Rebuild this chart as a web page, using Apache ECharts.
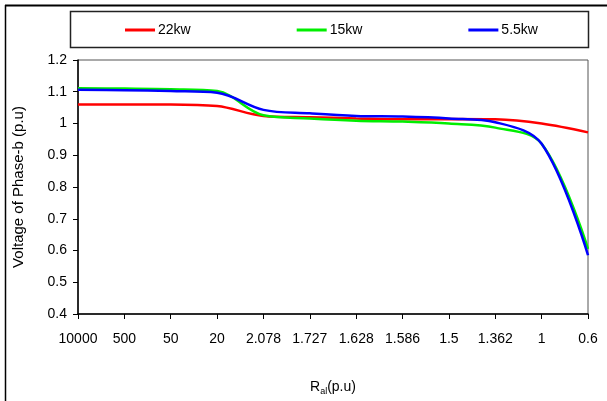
<!DOCTYPE html>
<html>
<head>
<meta charset="utf-8">
<script src="https://cdn.jsdelivr.net/npm/echarts@6/dist/echarts.min.js"></script>
<style>
html,body{margin:0;padding:0;background:#fff;}
#chart{width:607px;height:401px;}
</style>
</head>
<body>
<div id="chart"></div>
<script>
const categories = ['10000','500','50','20','2.078','1.727','1.628','1.586','1.5','1.362','1','0.6'];
const seriesNames = ['22kw','15kw','5.5kw'];
const kw22 = [1.060, 1.060, 1.060, 1.055, 1.024, 1.020, 1.016, 1.013, 1.014, 1.013, 1.000, 0.972];
const kw15 = [1.111, 1.110, 1.108, 1.102, 1.026, 1.016, 1.009, 1.006, 1.000, 0.987, 0.936, 0.605];
const kw55 = [1.106, 1.105, 1.102, 1.097, 1.043, 1.032, 1.024, 1.022, 1.016, 1.004, 0.936, 0.585];
const yTicks = {min: 0.4, max: 1.2, interval: 0.1};
const colors = ['#FF0000', '#00EE00', '#0000FF'];

const chart = echarts.init(document.getElementById('chart'), null, {renderer: 'canvas'});
const font = 'Liberation Sans, Arial, sans-serif';
const values = [kw22, kw15, kw55];

chart.setOption({
  animation: false,
  backgroundColor: '#ffffff',
  graphic: [
    {type: 'line', shape: {x1: 5, y1: 5.5, x2: 607, y2: 5.5}, style: {stroke: '#000', lineWidth: 2}},
    {type: 'line', shape: {x1: 5.5, y1: 5, x2: 5.5, y2: 401}, style: {stroke: '#000', lineWidth: 1.5}},
    {type: 'rect', shape: {x: 70.5, y: 11.5, width: 518, height: 36}, style: {fill: 'none', stroke: '#222', lineWidth: 1.5}}
  ],
  legend: {
    data: seriesNames,
    left: 125,
    top: 23,
    padding: 0,
    icon: 'rect',
    itemWidth: 30,
    itemHeight: 3,
    itemGap: 106,
    textStyle: {fontFamily: font, fontSize: 14, color: '#000', padding: [0, 0, 0, -2]}
  },
  grid: {
    left: 78, right: 19, top: 60, bottom: 83,
    show: true, borderColor: '#555', borderWidth: 1, backgroundColor: '#fff'
  },
  xAxis: {
    type: 'category',
    data: categories,
    boundaryGap: false,
    axisLine: {lineStyle: {color: '#000', width: 1.5}},
    axisTick: {show: true, length: 5, alignWithLabel: true, lineStyle: {color: '#000'}},
    axisLabel: {fontFamily: font, fontSize: 14, color: '#000', margin: 18, interval: 0},
    splitLine: {show: false},
    name: '{r|R}{s|al}{r|(p.u)}',
    nameLocation: 'middle',
    nameGap: 64,
    nameTextStyle: {
      rich: {
        r: {fontFamily: font, fontSize: 14, color: '#000', lineHeight: 18},
        s: {fontFamily: font, fontSize: 9, color: '#000', lineHeight: 10, verticalAlign: 'bottom'}
      }
    }
  },
  yAxis: {
    type: 'value',
    min: yTicks.min, max: yTicks.max, interval: yTicks.interval,
    axisLine: {show: true, lineStyle: {color: '#000', width: 1.5}},
    axisTick: {show: true, length: 5, lineStyle: {color: '#000'}},
    axisLabel: {fontFamily: font, fontSize: 14, color: '#000', margin: 11,
      formatter: v => String(Math.round(v * 10) / 10)},
    splitLine: {show: false},
    name: 'Voltage of Phase-b (p.u)',
    nameLocation: 'middle',
    nameGap: 52,
    nameTextStyle: {fontFamily: font, fontSize: 15, color: '#000'}
  },
  series: seriesNames.map((n, i) => ({
    name: n,
    type: 'line',
    data: values[i],
    smooth: 0.35,
    showSymbol: false,
    symbol: 'none',
    lineStyle: {color: colors[i], width: 2.5},
    itemStyle: {color: colors[i]}
  }))
});
</script>
</body>
</html>
